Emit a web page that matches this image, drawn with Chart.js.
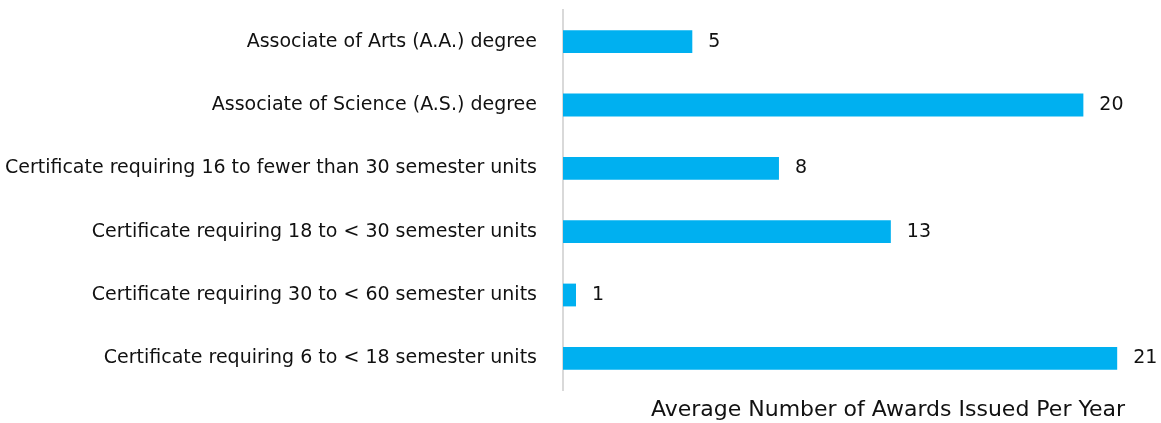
<!DOCTYPE html>
<html>
<head>
<meta charset="utf-8">
<script src="https://cdn.jsdelivr.net/npm/chart.js@4"></script>
<style>
  html, body { margin: 0; padding: 0; background: #fff; }
  #wrap { width: 1161px; height: 423px; }
</style>
</head>
<body>
<div id="wrap"><canvas id="myChart" width="1161" height="423"></canvas></div>
<script>
// award types and their average yearly counts (bar lengths)
let awardTypes = [
  "Associate of Arts (A.A.) degree",
  "Associate of Science (A.S.) degree",
  "Certificate requiring 16 to fewer than 30 semester units",
  "Certificate requiring 18 to < 30 semester units",
  "Certificate requiring 30 to < 60 semester units",
  "Certificate requiring 6 to < 18 semester units"
];
let avgAwards = [4.97, 20.0, 8.3, 12.6, 0.5, 21.3];
let axisTitle = "Average Number of Awards Issued Per Year";

let fontName = "'DejaVu Sans', sans-serif";

// draws the value next to each bar
let valueLabels = {
  id: "valueLabels",
  afterDatasetsDraw(chart) {
    let ctx = chart.ctx;
    let meta = chart.getDatasetMeta(0);
    ctx.save();
    ctx.font = "19px " + fontName;
    ctx.fillStyle = "#111";
    ctx.textAlign = "left";
    ctx.textBaseline = "middle";
    meta.data.forEach(function(bar, i) {
      ctx.fillText(String(Math.round(avgAwards[i])), bar.x + 16, bar.y);
    });
    ctx.restore();
  }
};

let ctx = document.getElementById("myChart").getContext("2d");
let chart = new Chart(ctx, {
  type: "bar",
  data: {
    labels: awardTypes,
    datasets: [
      {
        data: avgAwards,
        backgroundColor: "#00B0F0",
        borderWidth: 0,
        categoryPercentage: 1,
        barPercentage: 0.36
      }
    ]
  },
  plugins: [valueLabels],
  options: {
    indexAxis: "y",
    responsive: false,
    animation: false,
    layout: { padding: { top: 10, right: 36, bottom: 0, left: 0 } },
    plugins: {
      legend: { display: false },
      tooltip: { enabled: false }
    },
    scales: {
      x: {
        min: 0,
        max: 21.6,
        grid: { display: false },
        border: { display: false },
        ticks: { display: false },
        title: {
          display: true,
          text: axisTitle,
          align: "end",
          color: "#111",
          font: { family: fontName, size: 22 },
          padding: { top: 6, bottom: 0 }
        },
        afterFit(scale) {
          scale.height = 33;
        }
      },
      y: {
        grid: { display: false },
        border: { display: true, color: "#d9d9d9", width: 2 },
        ticks: {
          color: "#111",
          padding: 18,
          font: { family: fontName, size: 19 }
        },
        afterFit(scale) {
          scale.width = 563;
          scale.paddingTop = 0;
          scale.paddingBottom = 0;
        }
      }
    }
  }
});
</script>
</body>
</html>
